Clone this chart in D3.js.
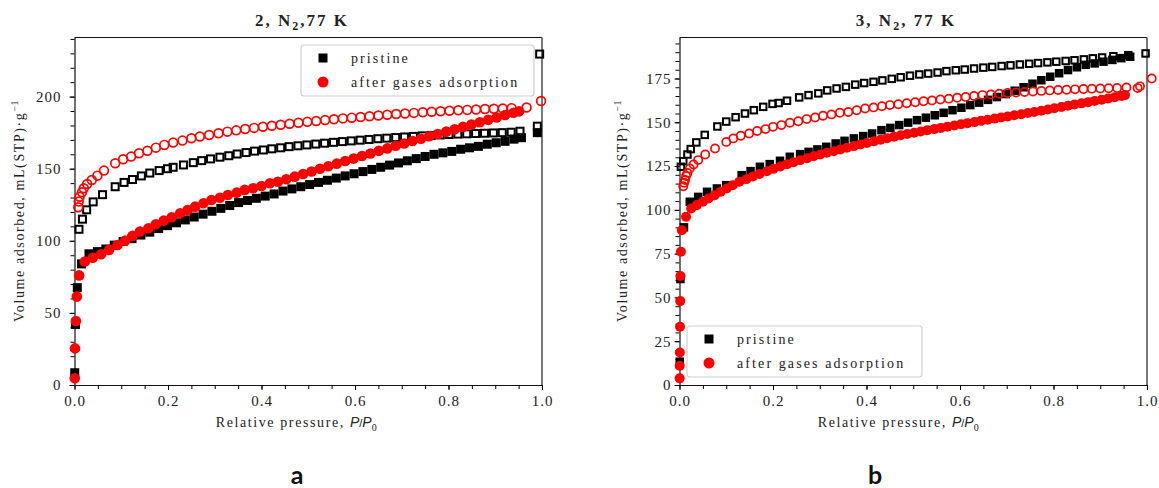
<!DOCTYPE html>
<html>
<head>
<meta charset="utf-8">
<script src="https://cdn.jsdelivr.net/npm/d3@7"></script>
<style>
  html, body { margin: 0; padding: 0; background: #fff; }
  svg { display: block; }
  .tick text { font-family: "Liberation Serif", "Times New Roman", serif; font-size: 15px; letter-spacing: 1px; fill: #222; }
  .serif { font-family: "Liberation Serif", "Times New Roman", serif; fill: #222; }
</style>
</head>
<body>
<svg id="chart" width="1159" height="488"></svg>
<script>
// ---- N2 isotherms at 77 K: [P/P0, volume mL(STP)/g] ----
// Panel a: compound 2
const aPristineAds = [[0.0005,8.5],[0.002,42],[0.006,67.5],[0.015,84],[0.031,91],[0.049,92.5],[0.067,94.3],[0.085,97],[0.104,99.5],[0.123,101.5],[0.142,104],[0.161,106],[0.180,108.5],[0.199,110.5],[0.218,112.5],[0.237,114.5],[0.256,116.5],[0.275,118.5],[0.294,120.5],[0.313,122.5],[0.332,124.5],[0.351,126.5],[0.370,128],[0.389,129.5],[0.408,131],[0.427,132.5],[0.446,134.5],[0.465,136],[0.484,137.5],[0.503,139],[0.522,140.5],[0.541,142],[0.560,143.5],[0.579,145],[0.598,146.5],[0.617,148],[0.636,149.5],[0.655,151],[0.674,152.5],[0.693,154],[0.712,155.5],[0.731,157],[0.750,158.5],[0.769,160],[0.788,161],[0.807,162],[0.826,163.5],[0.845,164.5],[0.864,165.5],[0.883,167],[0.902,168],[0.921,169],[0.940,170.5],[0.956,171.5],[0.990,175]];
const aPristineDes = [[0.0096,108],[0.017,115],[0.026,121.5],[0.040,127],[0.060,132],[0.087,137.5],[0.106,140.5],[0.124,142.5],[0.143,145],[0.161,147],[0.181,148.7],[0.199,150],[0.211,151],[0.233,152.6],[0.254,154.2],[0.272,155.6],[0.291,156.8],[0.311,158],[0.330,159],[0.348,160.2],[0.367,161.2],[0.385,162.2],[0.404,163],[0.422,163.8],[0.441,164.5],[0.459,165.3],[0.478,165.9],[0.497,166.5],[0.516,167.1],[0.535,167.7],[0.554,168.3],[0.573,168.8],[0.592,169.3],[0.611,169.8],[0.630,170.3],[0.649,170.8],[0.668,171.2],[0.687,171.6],[0.706,172],[0.725,172.4],[0.744,172.8],[0.763,173.1],[0.782,173.4],[0.801,173.7],[0.820,174],[0.839,174.2],[0.858,174.4],[0.877,174.6],[0.896,174.8],[0.915,175],[0.934,175.3],[0.953,176],[0.990,179.5],[0.995,229.5]];
const aAfterAds = [[0.0005,4.6],[0.001,25.4],[0.003,44.4],[0.005,61.3],[0.010,76],[0.022,85.6],[0.039,88.3],[0.057,90.7],[0.074,93.7],[0.092,97.1],[0.108,100.1],[0.124,103.4],[0.140,106.4],[0.158,108.7],[0.174,111.5],[0.191,114],[0.208,116.3],[0.226,119.1],[0.242,121.4],[0.258,123.7],[0.276,126],[0.293,128.3],[0.311,129.9],[0.328,131.8],[0.347,133.4],[0.364,135.3],[0.382,136.5],[0.400,138],[0.418,139.9],[0.435,141],[0.453,142.7],[0.471,144.5],[0.489,146.3],[0.507,148.1],[0.525,149.9],[0.543,151.7],[0.561,153.5],[0.579,155.3],[0.597,157],[0.615,158.8],[0.633,160.6],[0.651,162.4],[0.669,164.1],[0.687,165.9],[0.705,167.5],[0.723,169.2],[0.741,170.8],[0.759,172.5],[0.777,174.1],[0.795,175.7],[0.813,177.3],[0.831,179],[0.849,180.6],[0.867,182.2],[0.885,183.9],[0.903,185.5],[0.921,187.2],[0.939,188.8],[0.951,189.8]];
const aAfterDes = [[0.008,123.3],[0.009,127.2],[0.011,130.6],[0.016,133.7],[0.020,136.4],[0.027,139.4],[0.037,142.2],[0.049,145.2],[0.063,148.7],[0.087,153.8],[0.104,156.6],[0.121,158.4],[0.138,160.7],[0.156,162.5],[0.174,164.6],[0.192,166.5],[0.211,168.1],[0.231,169.5],[0.250,171.1],[0.268,172.3],[0.288,173.4],[0.308,174.6],[0.327,175.7],[0.346,176.6],[0.365,177.5],[0.384,178.3],[0.403,179.1],[0.422,179.8],[0.441,180.5],[0.460,181.2],[0.479,181.9],[0.498,182.5],[0.517,183.1],[0.536,183.7],[0.555,184.3],[0.574,184.9],[0.593,185.4],[0.612,185.9],[0.631,186.4],[0.650,186.9],[0.669,187.4],[0.688,187.9],[0.707,188.3],[0.726,188.7],[0.745,189.1],[0.764,189.5],[0.783,189.9],[0.802,190.2],[0.821,190.5],[0.840,190.8],[0.859,191.1],[0.878,191.4],[0.897,191.6],[0.916,191.8],[0.935,192],[0.967,192.5],[0.998,197]];

// Panel b: compound 3
const bPristineAds = [[0.0005,13.3],[0.002,60.5],[0.0096,90],[0.022,104.6],[0.040,107.4],[0.059,110.3],[0.080,112.2],[0.100,114.1],[0.133,119.8],[0.152,122.1],[0.172,124.6],[0.193,126.1],[0.215,128],[0.236,130.3],[0.258,131.8],[0.276,133.1],[0.295,134.5],[0.314,136],[0.334,137.9],[0.353,139.4],[0.373,140.8],[0.393,142.1],[0.412,143.6],[0.432,145.5],[0.451,146.8],[0.470,148.4],[0.489,149.8],[0.508,151.2],[0.527,152.6],[0.546,154],[0.565,155.4],[0.584,156.9],[0.603,158.3],[0.622,159.8],[0.641,161.2],[0.660,162.8],[0.679,164.4],[0.698,166.1],[0.717,168],[0.736,170],[0.755,172],[0.774,174],[0.793,176],[0.812,178],[0.831,179.8],[0.850,181.4],[0.869,182.8],[0.888,183.6],[0.907,184.6],[0.926,185.6],[0.945,186.6],[0.964,187.4]];
const bPristineDes = [[0.003,124.6],[0.008,127.8],[0.017,131.6],[0.024,134.7],[0.036,138.5],[0.054,142.8],[0.081,147.6],[0.100,150.4],[0.120,152.9],[0.140,155],[0.159,156.9],[0.179,158.8],[0.199,160.5],[0.212,161],[0.230,162.3],[0.256,164.2],[0.276,165.5],[0.297,166.5],[0.316,168.2],[0.336,169.3],[0.356,170.2],[0.376,171.5],[0.395,172.4],[0.415,173.1],[0.434,173.9],[0.454,174.8],[0.473,175.7],[0.493,176.6],[0.513,177.3],[0.532,177.8],[0.552,178.4],[0.571,179.2],[0.591,179.7],[0.610,180.1],[0.630,180.7],[0.650,181.2],[0.669,181.6],[0.689,182.1],[0.708,182.5],[0.728,183],[0.748,183.4],[0.767,183.8],[0.787,184.2],[0.806,184.6],[0.826,185],[0.845,185.4],[0.865,185.9],[0.884,186.5],[0.904,187],[0.928,187.7],[0.960,188.3],[0.997,189.3]];
const bAfterAds = [[0.0003,3.8],[0.0005,11],[0.0008,18.6],[0.0011,33.3],[0.0015,47.9],[0.002,62.2],[0.003,76.1],[0.005,88.4],[0.014,96],[0.025,100.8],[0.037,102.7],[0.050,104.6],[0.062,106.5],[0.075,108.4],[0.088,110.3],[0.101,112.2],[0.114,114.1],[0.128,116],[0.143,117.5],[0.157,119],[0.171,120.5],[0.187,122],[0.201,123.4],[0.216,124.8],[0.230,126.1],[0.244,127.2],[0.258,128.3],[0.273,129.5],[0.287,130.6],[0.301,131.6],[0.315,132.6],[0.330,133.5],[0.344,134.5],[0.358,135.5],[0.373,136.4],[0.387,137.3],[0.401,138.2],[0.416,139.1],[0.430,140],[0.444,140.9],[0.459,141.8],[0.473,142.6],[0.487,143.3],[0.502,144],[0.516,144.7],[0.530,145.4],[0.545,146.1],[0.559,146.8],[0.573,147.5],[0.588,148.2],[0.602,148.9],[0.616,149.5],[0.631,150.1],[0.645,150.8],[0.659,151.4],[0.674,152.1],[0.688,152.7],[0.702,153.3],[0.716,154],[0.731,154.6],[0.745,155.3],[0.759,155.9],[0.774,156.6],[0.788,157.3],[0.802,158],[0.817,158.7],[0.831,159.4],[0.845,160.1],[0.860,160.8],[0.874,161.5],[0.888,162.2],[0.903,162.9],[0.917,163.6],[0.931,164.3],[0.946,165],[0.953,165.5]];
const bAfterDes = [[0.008,113.5],[0.010,115.5],[0.012,117],[0.014,119.3],[0.017,121.1],[0.022,123.6],[0.030,125.9],[0.040,128.4],[0.055,131.6],[0.076,135],[0.100,138.8],[0.115,140.8],[0.131,142.3],[0.149,143.6],[0.166,145],[0.184,146.1],[0.200,147.4],[0.218,148.4],[0.236,149.7],[0.254,150.6],[0.272,151.8],[0.290,152.7],[0.307,153.7],[0.325,154.5],[0.343,155.4],[0.361,155.9],[0.379,156.9],[0.397,157.9],[0.415,158.5],[0.433,159.2],[0.450,159.8],[0.468,160.3],[0.486,160.9],[0.504,161.4],[0.522,162],[0.540,162.5],[0.558,163],[0.576,163.5],[0.594,164],[0.612,164.5],[0.630,165],[0.648,165.5],[0.666,165.9],[0.684,166.3],[0.702,166.7],[0.720,167],[0.738,167.3],[0.756,167.6],[0.774,167.9],[0.792,168.2],[0.810,168.4],[0.828,168.6],[0.846,168.8],[0.864,169],[0.882,169.2],[0.900,169.3],[0.918,169.4],[0.936,169.6],[0.956,169.9],[0.980,169.5],[0.985,170.5],[1.010,175]];

// ---- axis ticks and labels ----
const xTicks = [0, 0.2, 0.4, 0.6, 0.8, 1.0];
const xMinorTicks = d3.range(0, 1.0001, 0.05);
const yTicksA = [0, 50, 100, 150, 200];
const yMinorA = d3.range(0, 241, 10);
const yTicksB = [0, 25, 50, 75, 100, 125, 150, 175];
const yMinorB = d3.range(0, 199, 5);
const legendLabels = ["pristine", "after gases adsorption"];
const panelTitles = [["2, N", "2", ",77 K"], ["3, N", "2", ", 77 K"]];
const panelLetters = ["a", "b"];

const svg = d3.select("#chart");

function drawPanel(o) {
  const x = d3.scaleLinear().domain([0, 1]).range([o.left, o.right]);
  const y = d3.scaleLinear().domain([0, o.yMax]).range([385, 37.5]);
  const g = svg.append("g");

  // frame
  g.append("line").attr("x1", o.left).attr("x2", o.right).attr("y1", 37.5).attr("y2", 37.5)
    .attr("stroke", "#111").attr("stroke-width", 1.2);
  g.append("line").attr("x1", o.right).attr("x2", o.right).attr("y1", 37.5).attr("y2", 385)
    .attr("stroke", "#555").attr("stroke-width", 1.6);

  // minor ticks
  g.append("g").attr("transform", "translate(0,385)")
    .call(d3.axisBottom(x).tickValues(xMinorTicks).tickSize(4).tickFormat(""))
    .call(s => s.select(".domain").remove());
  g.append("g").attr("transform", `translate(${o.left},0)`)
    .call(d3.axisLeft(y).tickValues(o.yMinor).tickSize(4).tickFormat(""))
    .call(s => s.select(".domain").remove());

  // major axes
  g.append("g").attr("transform", "translate(0,385)")
    .call(d3.axisBottom(x).tickValues(xTicks).tickSize(5).tickSizeOuter(0).tickPadding(5).tickFormat(d3.format(".1f")))
    .call(s => s.select(".domain").attr("stroke", "#111").attr("stroke-width", 1.2));
  g.append("g").attr("transform", `translate(${o.left},0)`)
    .call(d3.axisLeft(y).tickValues(o.yTicks).tickSize(5).tickSizeOuter(0).tickPadding(o.yPad).tickFormat(d3.format("d")))
    .call(s => s.select(".domain").attr("stroke", "#111").attr("stroke-width", 1.2));

  // series: pristine (squares), after gas adsorption (circles); filled = adsorption, open = desorption
  const sq = o.sq, r = o.r;
  g.append("g").selectAll("rect").data(o.pAds).join("rect")
    .attr("x", d => x(d[0]) - sq / 2).attr("y", d => y(d[1]) - sq / 2)
    .attr("width", sq).attr("height", sq).attr("fill", "#000");
  g.append("g").selectAll("rect").data(o.pDes).join("rect")
    .attr("x", d => x(d[0]) - (sq - 2) / 2).attr("y", d => y(d[1]) - (sq - 2) / 2)
    .attr("width", sq - 2).attr("height", sq - 2).attr("fill", "none")
    .attr("stroke", "#000").attr("stroke-width", 2);
  g.append("g").selectAll("circle").data(o.aAds).join("circle")
    .attr("cx", d => x(d[0])).attr("cy", d => y(d[1])).attr("r", r).attr("fill", "#ff0000");
  g.append("g").selectAll("circle").data(o.aDes).join("circle")
    .attr("cx", d => x(d[0])).attr("cy", d => y(d[1])).attr("r", r - 0.9).attr("fill", "none")
    .attr("stroke", "#ff0000").attr("stroke-width", 1.7);

  // axis titles
  const xt = g.append("text").attr("class", "serif").attr("x", o.xTitleX).attr("y", 427)
    .attr("text-anchor", "middle").style("font-size", "14px").style("letter-spacing", "1.6px");
  xt.append("tspan").text("Relative pressure, ");
  xt.append("tspan").text("P").style("font-family", "'Liberation Sans', Arial, sans-serif").style("font-style", "italic").style("letter-spacing", "0px");
  xt.append("tspan").text("/").style("font-family", "'Liberation Sans', Arial, sans-serif").style("letter-spacing", "0px").style("font-size", "11px");
  xt.append("tspan").text("P").style("font-family", "'Liberation Sans', Arial, sans-serif").style("font-style", "italic").style("letter-spacing", "0px");
  xt.append("tspan").text("0").attr("dy", 4).style("font-size", "10px");

  const yt = g.append("text").attr("class", "serif")
    .attr("transform", `translate(${o.yTitleX},${o.yTitleY}) rotate(-90)`)
    .attr("text-anchor", "middle").style("font-size", "14px").style("letter-spacing", "1.6px");
  yt.append("tspan").text("Volume adsorbed, mL(STP)·g");
  yt.append("tspan").text("−1").attr("dy", -6).style("font-size", "10px").style("letter-spacing", "0.5px");

  // panel title
  const t = g.append("text").attr("class", "serif").attr("x", o.titleX).attr("y", 26)
    .attr("text-anchor", "middle").style("font-size", "17px").style("font-weight", "bold").style("letter-spacing", "2px");
  t.append("tspan").text(o.title[0]);
  t.append("tspan").text(o.title[1]).attr("dy", 4).style("font-size", "12px");
  t.append("tspan").text(o.title[2]).attr("dy", -4);

  // panel letter
  g.append("text").attr("x", o.letterX).attr("y", 484).attr("text-anchor", "middle")
    .style("font-family", "Lato, 'Open Sans', sans-serif").style("font-weight", "bold").style("font-size", "25px")
    .attr("fill", "#111").text(o.letter);

  // legend
  const L = o.legend;
  const lg = g.append("g");
  lg.append("rect").attr("x", L.x).attr("y", L.y).attr("width", L.w).attr("height", L.h)
    .attr("rx", 3).attr("fill", "#fff").attr("fill-opacity", 0.85).attr("stroke", "#d0d0d0").attr("stroke-width", 1.2);
  lg.append("rect").attr("x", L.mx - 4.5).attr("y", L.y + 13 - 4.5).attr("width", 9).attr("height", 9).attr("fill", "#000");
  lg.append("circle").attr("cx", L.mx).attr("cy", L.y + 37).attr("r", 5.5).attr("fill", "#ff0000");
  legendLabels.forEach((s, i) => {
    lg.append("text").attr("class", "serif").attr("x", L.tx).attr("y", L.y + 18 + i * 24)
      .style("font-size", "14px").style("letter-spacing", "2.1px").text(s);
  });
}

drawPanel({
  left: 74.5, right: 542, yMax: 241, yTicks: yTicksA, yMinor: yMinorA, yPad: 8,
  pAds: aPristineAds, pDes: aPristineDes, aAds: aAfterAds, aDes: aAfterDes,
  sq: 9, r: 5.3,
  xTitleX: 297, yTitleX: 24, yTitleY: 211, titleX: 302,
  title: panelTitles[0], letter: panelLetters[0], letterX: 297,
  legend: { x: 301, y: 45, w: 233, h: 51, mx: 323, tx: 351 }
});

drawPanel({
  left: 679.5, right: 1147, yMax: 198.4, yTicks: yTicksB, yMinor: yMinorB, yPad: 3,
  pAds: bPristineAds, pDes: bPristineDes, aAds: bAfterAds, aDes: bAfterDes,
  sq: 8.5, r: 5,
  xTitleX: 899, yTitleX: 627, yTitleY: 211, titleX: 906,
  title: panelTitles[1], letter: panelLetters[1], letterX: 875,
  legend: { x: 687, y: 326, w: 235, h: 51, mx: 709, tx: 737 }
});
</script>
</body>
</html>
